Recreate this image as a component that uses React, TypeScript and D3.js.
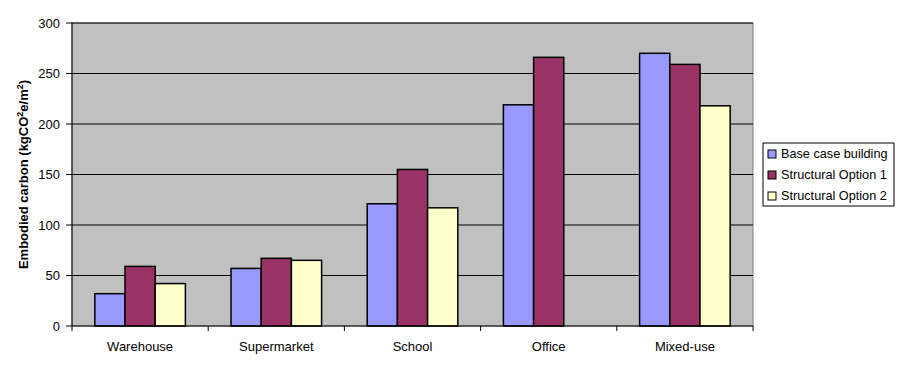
import React from "react";
import * as d3 from "d3";

const categories = ["Warehouse", "Supermarket", "School", "Office", "Mixed-use"];
const seriesNames = ["Base case building", "Structural Option 1", "Structural Option 2"];
const baseCase = [32, 57, 121, 219, 270];
const option1 = [59, 67, 155, 266, 259];
const option2 = [42, 65, 117, 0, 218];
const yTicks = [0, 50, 100, 150, 200, 250, 300];
const colors = ["#9999FF", "#993366", "#FFFFCC"];

const width = 900;
const height = 369;
const margin = { top: 23, right: 147, bottom: 43, left: 72 };

export default function App() {
  const series = [baseCase, option1, option2];
  const plotW = width - margin.left - margin.right;
  const plotH = height - margin.top - margin.bottom;

  const x = d3
    .scaleBand<string>()
    .domain(categories)
    .range([0, plotW])
    .paddingInner(0.335)
    .paddingOuter(0.1675);
  const xs = d3
    .scaleBand<number>()
    .domain([0, 1, 2])
    .range([0, x.bandwidth()]);
  const y = d3.scaleLinear().domain([0, 300]).range([plotH, 0]);

  const font = "'Liberation Sans', Arial, sans-serif";

  return (
    <svg
      width={width}
      height={height}
      style={{ position: "absolute", left: 0, top: 0, background: "#fff" }}
      fontFamily={font}
    >
      <g transform={`translate(${margin.left},${margin.top})`}>
        <rect width={plotW} height={plotH} fill="#C0C0C0" stroke="#808080" />
        {/* gridlines */}
        {yTicks.slice(1).map((t) => (
          <line key={t} x1={0} x2={plotW} y1={y(t)} y2={y(t)} stroke="#000" strokeWidth={1} />
        ))}
        {/* bars */}
        {categories.map((c, i) => (
          <g key={c} transform={`translate(${x(c)},0)`}>
            {series.map((s, j) =>
              s[i] > 0 ? (
                <rect
                  key={j}
                  x={xs(j)}
                  y={y(s[i])}
                  width={xs.bandwidth()}
                  height={plotH - y(s[i])}
                  fill={colors[j]}
                  stroke="#000"
                  strokeWidth={1.5}
                />
              ) : null
            )}
          </g>
        ))}
        {/* y axis */}
        <line x1={0} x2={0} y1={0} y2={plotH} stroke="#000" />
        {yTicks.map((t) => (
          <g key={t} transform={`translate(0,${y(t)})`}>
            <line x1={-6} x2={0} stroke="#000" />
            <text x={-12} dy="0.35em" textAnchor="end" fontSize={13}>
              {t}
            </text>
          </g>
        ))}
        {/* x axis */}
        <line x1={0} x2={plotW} y1={plotH} y2={plotH} stroke="#000" />
        {d3.range(categories.length + 1).map((i) => (
          <line
            key={i}
            x1={(plotW / categories.length) * i}
            x2={(plotW / categories.length) * i}
            y1={plotH}
            y2={plotH + 5}
            stroke="#000"
          />
        ))}
        {categories.map((c) => (
          <text
            key={c}
            x={(x(c) ?? 0) + x.bandwidth() / 2}
            y={plotH + 25}
            textAnchor="middle"
            fontSize={13}
          >
            {c}
          </text>
        ))}
        {/* y title */}
        <text
          transform={`translate(-44,${plotH / 2}) rotate(-90)`}
          textAnchor="middle"
          fontSize={13}
          fontWeight="bold"
        >
          Embodied carbon (kgCO
          <tspan dy={-5} fontSize={9}>2</tspan>
          <tspan dy={5}>e/m</tspan>
          <tspan dy={-5} fontSize={9}>2</tspan>
          <tspan dy={5}>)</tspan>
        </text>
      </g>
      {/* legend */}
      <g transform="translate(763,143)">
        <rect width={131} height={63} fill="#fff" stroke="#000" />
        {seriesNames.map((n, i) => (
          <g key={n} transform={`translate(5,${11 + i * 21})`}>
            <rect x={0} y={-4} width={8} height={8} fill={colors[i]} stroke="#000" />
            <text x={13} dy="0.35em" fontSize={12.7}>
              {n}
            </text>
          </g>
        ))}
      </g>
    </svg>
  );
}
